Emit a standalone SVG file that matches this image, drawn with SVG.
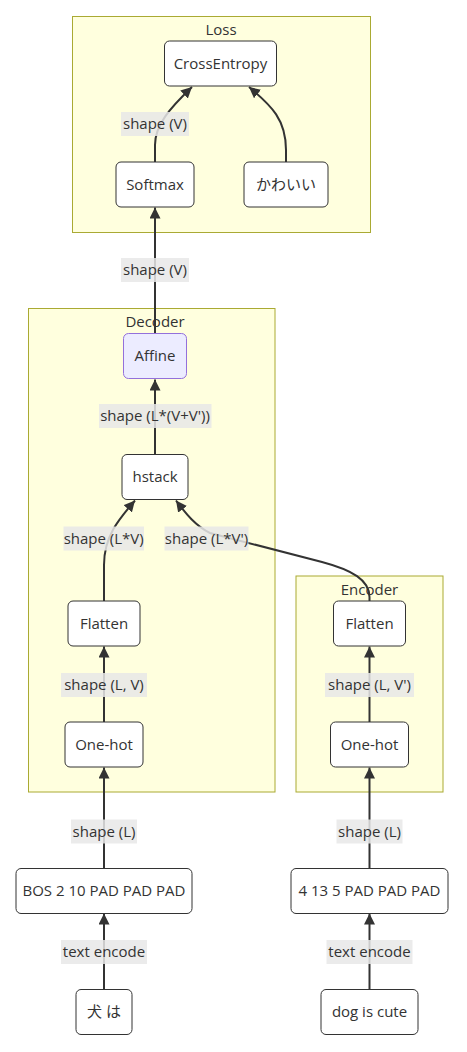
<svg xmlns="http://www.w3.org/2000/svg" width="467" height="1052" viewBox="0 0 467 1052">
<style>
.cluster{fill:#ffffde;stroke:#aaaa33;stroke-width:1}
.ctitle{font-family:"Open Sans","Liberation Sans",Arial,sans-serif;font-size:15px;fill:#333;text-anchor:middle}
.node rect{fill:#ffffff;stroke:#333;stroke-width:1}
.node.purple rect{fill:#ECECFF;stroke:#9370DB}
.node text{font-family:"Open Sans","Noto Sans CJK JP",sans-serif;font-size:15px;fill:#333;text-anchor:middle}
.edge{fill:none;stroke:#333;stroke-width:2}
.lbl rect{fill:#e8e8e8;opacity:0.85}
.lbl text{font-family:"Open Sans","Liberation Sans",Arial,sans-serif;font-size:15px;fill:#333;text-anchor:middle}
</style>
<defs>
<marker id="arrow" viewBox="0 0 10 10" refX="10" refY="5" markerUnits="userSpaceOnUse" markerWidth="11" markerHeight="11" orient="auto">
<path d="M0,0 L10,5 L0,10 z" fill="#333"/>
</marker>
</defs>
<g id="clusters">
<rect class="cluster" x="72.5" y="16.5" width="298" height="216"/>
<text class="ctitle" x="221" y="35">Loss</text>
<rect class="cluster" x="28.5" y="308.5" width="246.5" height="483.5"/>
<text class="ctitle" x="155" y="327">Decoder</text>
<rect class="cluster" x="296" y="576" width="147" height="216"/>
<text class="ctitle" x="369.5" y="595">Encoder</text>
</g>
<g id="connectors">
<path class="edge" d="M155,162 L155,145 C155,125 170,108 192,87" marker-end="url(#arrow)"/>
<path class="edge" d="M286,162 L286,150 C286,120 272,106 249,87" marker-end="url(#arrow)"/>
<path class="edge" d="M155,333.5 L155,207.5" marker-end="url(#arrow)"/>
<path class="edge" d="M155,454.5 L155,379.5" marker-end="url(#arrow)"/>
<path class="edge" d="M104,601 L104,565 C104,537 118,520 135,500.5" marker-end="url(#arrow)"/>
<path class="edge" d="M369.5,601 L369.5,597 C369.5,580 352,570 322,562 L210,533 C196,526 186,514 176,500.5" marker-end="url(#arrow)"/>
<path class="edge" d="M104,722 L104,646.5" marker-end="url(#arrow)"/>
<path class="edge" d="M369.5,722 L369.5,646.5" marker-end="url(#arrow)"/>
<path class="edge" d="M104,868.5 L104,767.5" marker-end="url(#arrow)"/>
<path class="edge" d="M369.5,868.5 L369.5,767.5" marker-end="url(#arrow)"/>
<path class="edge" d="M104,989.5 L104,913.5" marker-end="url(#arrow)"/>
<path class="edge" d="M369.5,989.5 L369.5,913.5" marker-end="url(#arrow)"/>
</g>
<g id="edge-labels">
<g class="lbl"><rect x="121" y="112" width="68" height="24"/><text x="155" y="129">shape (V)</text></g>
<g class="lbl"><rect x="121" y="258" width="68" height="24"/><text x="155" y="275">shape (V)</text></g>
<g class="lbl"><rect x="99" y="404" width="112.5" height="24"/><text x="155" y="421">shape (L*(V+V'))</text></g>
<g class="lbl"><rect x="63.5" y="526.5" width="80.5" height="24"/><text x="103.7" y="543.5">shape (L*V)</text></g>
<g class="lbl"><rect x="164.5" y="526.5" width="84" height="24"/><text x="206.5" y="543.5">shape (L*V')</text></g>
<g class="lbl"><rect x="61" y="673" width="86" height="24"/><text x="104" y="690">shape (L, V)</text></g>
<g class="lbl"><rect x="325" y="673" width="89" height="24"/><text x="369.5" y="690">shape (L, V')</text></g>
<g class="lbl"><rect x="71" y="819.5" width="66" height="24"/><text x="104" y="836.5">shape (L)</text></g>
<g class="lbl"><rect x="336.5" y="819.5" width="66" height="24"/><text x="369.5" y="836.5">shape (L)</text></g>
<g class="lbl"><rect x="61" y="940" width="86" height="24"/><text x="104" y="957">text encode</text></g>
<g class="lbl"><rect x="326.5" y="940" width="86" height="24"/><text x="369.5" y="957">text encode</text></g>
</g>
<g id="n-crossentropy" class="node"><rect x="164.5" y="41" width="112" height="45" rx="5"/><text x="220.5" y="68.5">CrossEntropy</text></g>
<g id="n-softmax" class="node"><rect x="116" y="162" width="78" height="45" rx="5"/><text x="155" y="189.5">Softmax</text></g>
<g id="n-kawaii" class="node"><rect x="244" y="162" width="84" height="45" rx="5"/><text x="286" y="189.5">かわいい</text></g>
<g id="n-affine" class="node purple"><rect x="123.5" y="333.5" width="63" height="45" rx="5"/><text x="155" y="361">Affine</text></g>
<g id="n-hstack" class="node"><rect x="122" y="454.5" width="66" height="45" rx="5"/><text x="155" y="482">hstack</text></g>
<g id="n-dflatten" class="node"><rect x="68" y="601" width="72" height="45" rx="5"/><text x="104" y="628.5">Flatten</text></g>
<g id="n-donehot" class="node"><rect x="65" y="722" width="78" height="45" rx="5"/><text x="104" y="749.5">One-hot</text></g>
<g id="n-eflatten" class="node"><rect x="333.5" y="601" width="72" height="45" rx="5"/><text x="369.5" y="628.5">Flatten</text></g>
<g id="n-eonehot" class="node"><rect x="330.5" y="722" width="78" height="45" rx="5"/><text x="369.5" y="749.5">One-hot</text></g>
<g id="n-bos" class="node"><rect x="16" y="868.5" width="176" height="45" rx="5"/><text x="104" y="896">BOS 2 10 PAD PAD PAD</text></g>
<g id="n-4135" class="node"><rect x="291" y="868.5" width="157" height="45" rx="5"/><text x="369.5" y="896">4 13 5 PAD PAD PAD</text></g>
<g id="n-inuwa" class="node"><rect x="76" y="989.5" width="56" height="45" rx="5"/><text x="104" y="1017">犬 は</text></g>
<g id="n-dog" class="node"><rect x="321" y="989.5" width="97" height="45" rx="5"/><text x="369.5" y="1017">dog is cute</text></g>
</svg>
